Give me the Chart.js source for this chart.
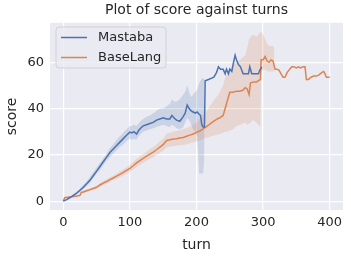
<!DOCTYPE html>
<html>
<head>
<meta charset="utf-8">
<script src="https://cdn.jsdelivr.net/npm/chart.js@4"></script>
<style>
  html, body { margin: 0; padding: 0; background: #fff; }
  #wrap { width: 351px; height: 263px; }
</style>
</head>
<body>
<div id="wrap"><canvas id="chart" width="351" height="263"></canvas></div>
<script>
// turns sampled for Mastaba
const mastabaTurns = [0,5,10,15,20,25,30,35,40,45,50,55,60,65,70,75,80,85,90,95,100,103,106,110,113,116,120,125,130,135,140,145,150,155,160,163,166,170,175,180,183,186,189,192,195,198,201,204,206,208,210,212,213,218,222,226,230,233,236,240,243,245,248,250,253,255,258,260,263,266,270,275,278,280,283,287,290,293,295,298];
const mastabaMean = [0,0.7,1.5,2.5,3.5,4.7,6,7.5,9,11,13,15,17,19,21,22.5,24,25.5,27,28.5,29.8,29.5,30,29,30.5,31.5,32.5,33,33.5,34,35,35.5,36,35.5,35.5,37,36,35,34.5,36.5,38,41.5,40,39,38.5,38,38.5,37.5,37,33,32,32,52,52.5,53,53.5,55.5,58,57,57,55,57,55,57,56,59,63,61,59,58,55,55,55,58,55,55,55,55,56.5,58];
// band only where there are several runs (up to turn 212)
const mastabaLow = [0,0.5,1.2,2,3,4,5.2,6.5,8,10,11.8,13.5,15.5,17.5,19,20.5,22,23.5,24.5,26,27,26.5,27,26.5,28,29,30,30.5,31,31.5,32,32.5,33,32.5,32,33,32.5,31.5,31,32,34,36,35,33,31,30,28,12,12,12,12,20];
const mastabaHigh = [0,1,1.8,3,4,5.5,7,8.5,10.5,12.5,14.5,16.5,18.5,20.5,23,24.5,26.5,28,29.5,31,32.5,32.5,33,32.5,33.5,34.5,35.5,36.5,37,38,39,40,40,41,42,44,43,43,44,46,47,50,47,45,46,47,48,51,52,53,53,53];

// turns sampled for BaseLang
const baseTurns = [0,2,10,20,25,27,30,35,40,45,50,55,60,65,70,75,80,85,90,95,100,105,110,115,120,125,130,135,140,145,150,153,156,160,165,170,175,180,185,190,195,200,205,210,215,220,225,230,235,240,243,246,250,255,260,265,270,273,276,279,281,285,290,293,296,297,300,303,306,309,312,315,317,318,321,324,327,330,333,336,340,343,346,350,353,356,360,363,365,368,372,376,380,384,388,391,393,395,398,400];
const baseMean = [0,1.5,1.8,2.2,2.5,3.8,4,4.5,5,5.5,6,7,7.8,8.5,9.3,10,10.8,11.6,12.4,13.3,14.2,15.3,16.5,17.5,18.5,19.5,20.3,21.2,22.2,23.3,24.4,25.5,26.3,26.5,26.8,27,27.3,27.5,28,28.5,29,29.7,30.3,31.2,32.2,33.3,34.3,35.3,36,37,40,43,47,47,47.5,47.5,48,49,48.5,46,51,51.5,51.5,52,52.5,61,61,62.5,60.5,60,61,60.5,58,57,57,56.5,55,53.5,53.5,55.5,57,58,58,57.5,58,57.5,58,58,52.5,52.5,53.5,54,54,54.5,55.5,56,55,53.5,53.5,53.5];
const baseLow = [0,1.2,1.5,1.8,2.1,3.3,3.5,4,4.4,4.9,5.3,6.2,6.9,7.6,8.3,9,9.7,10.4,11.1,11.9,12.7,13.7,14.8,15.7,16.6,17.5,18.2,19,19.9,20.8,21.8,22.7,23.3,23.5,23.7,23.9,24.1,24.3,24.6,25,25.4,25.8,26.3,26.8,27.4,27.8,28.2,28.6,29,29.5,30,30,30.5,31,32.5,33,33.5,34,33,33.5,34,35,34,33,32,56,56.5,57,56,56,56,56,56];
const baseHigh = [0,1.8,2.1,2.6,2.9,4.3,4.5,5,5.6,6.1,6.7,7.8,8.7,9.4,10.3,11,11.9,12.8,13.7,14.7,15.7,16.9,18.2,19.3,20.4,21.5,22.4,23.4,24.5,25.8,27,28.3,29.3,29.5,30,30.3,30.7,31,31.5,32.2,33,34,35.5,37,39,41,43,45,47,50,53,55,57,59,60,61,62,63,66,70,71,72,71,72,73,73,72,70,68,67,67,67,66];

const xTicks = [0, 100, 200, 300, 400];
const yTicks = [0, 20, 40, 60];

const blue = "#4C72B0";
const orange = "#DD8452";
const textCol = "#262626";
const font = "'DejaVu Sans', sans-serif";

const pts = (turns, vals) => vals.map((v, i) => ({ x: turns[i], y: v }));

// legend drawn inside the plot, seaborn style
const insideLegend = {
  id: "insideLegend",
  afterDraw(chart) {
    const c = chart.ctx;
    const items = chart.data.datasets.filter(d => d.showInLegend);
    const x = 56, y = 27, w = 110, h = 41;
    c.save();
    c.beginPath();
    c.roundRect(x, y, w, h, 3);
    c.fillStyle = "rgba(234,234,242,0.8)";
    c.fill();
    c.strokeStyle = "rgba(204,204,204,0.8)";
    c.lineWidth = 1;
    c.stroke();
    c.font = "13px " + font;
    c.textBaseline = "middle";
    items.forEach((d, i) => {
      const yy = y + 10.5 + i * 20;
      c.beginPath();
      c.moveTo(x + 5, yy);
      c.lineTo(x + 31, yy);
      c.strokeStyle = d.borderColor;
      c.lineWidth = 1.5;
      c.stroke();
      c.fillStyle = textCol;
      c.fillText(d.label, x + 42, yy);
    });
    c.restore();
  }
};

new Chart(document.getElementById("chart").getContext("2d"), {
  type: "line",
  data: {
    datasets: [
      { label: "Mastaba", showInLegend: true, data: pts(mastabaTurns, mastabaMean), borderColor: blue, borderWidth: 1.5, pointRadius: 0, fill: false, order: 0 },
      { label: "BaseLang", showInLegend: true, data: pts(baseTurns, baseMean), borderColor: orange, borderWidth: 1.5, pointRadius: 0, fill: false, order: 0 },
      { label: "mLow", data: pts(mastabaTurns, mastabaLow), borderWidth: 0, pointRadius: 0, fill: false, order: 2 },
      { label: "mHigh", data: pts(mastabaTurns, mastabaHigh), borderWidth: 0, pointRadius: 0, fill: "-1", backgroundColor: "rgba(76,114,176,0.2)", order: 2 },
      { label: "bLow", data: pts(baseTurns, baseLow), borderWidth: 0, pointRadius: 0, fill: false, order: 1 },
      { label: "bHigh", data: pts(baseTurns, baseHigh), borderWidth: 0, pointRadius: 0, fill: "-1", backgroundColor: "rgba(221,132,82,0.2)", order: 1 }
    ]
  },
  options: {
    responsive: false,
    animation: false,
    layout: { padding: { left: 0, right: 8, top: 0, bottom: 0 } },
    plugins: {
      legend: { display: false },
      tooltip: { enabled: false },
      title: {
        display: true,
        text: "Plot of score against turns",
        fullSize: false,
        color: textCol,
        font: { family: font, size: 14, weight: "normal" },
        padding: { top: 2, bottom: 4 }
      }
    },
    scales: {
      x: {
        type: "linear",
        min: -20, max: 420,
        afterBuildTicks: s => { s.ticks = xTicks.map(v => ({ value: v })); },
        afterFit: s => { s.height = 53; },
        grid: { color: "#ffffff", lineWidth: 1.2, drawTicks: false },
        border: { display: false },
        ticks: { color: textCol, font: { family: font, size: 13 }, padding: 5, maxRotation: 0 },
        title: { display: true, text: "turn", color: textCol, font: { family: font, size: 14 }, padding: { top: 0, bottom: 9 } }
      },
      y: {
        type: "linear",
        min: -3.8, max: 77,
        afterBuildTicks: s => { s.ticks = yTicks.map(v => ({ value: v })); },
        afterFit: s => { s.width = 50; },
        grid: { color: "#ffffff", lineWidth: 1.2, drawTicks: false },
        border: { display: false },
        ticks: { color: textCol, font: { family: font, size: 13 }, padding: 6 },
        title: { display: true, text: "score", color: textCol, font: { family: font, size: 14 }, padding: { top: 4, bottom: 0 } }
      }
    }
  },
  plugins: [{
    id: "bg",
    beforeDraw(chart) {
      const a = chart.chartArea, c = chart.ctx;
      c.save();
      c.fillStyle = "#EAEAF2";
      c.fillRect(a.left, a.top, a.right - a.left, a.bottom - a.top);
      c.restore();
    }
  }, insideLegend]
});
</script>
</body>
</html>
